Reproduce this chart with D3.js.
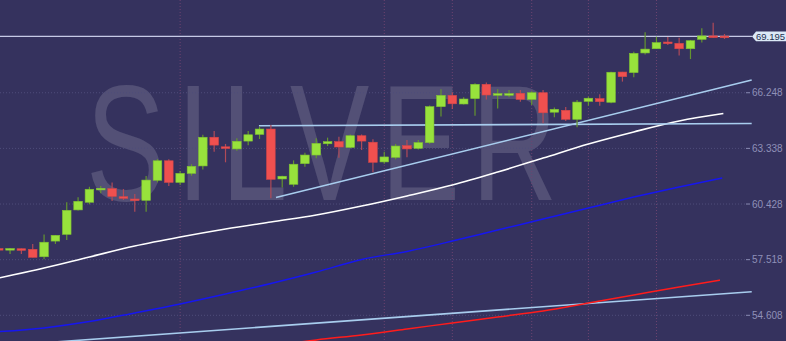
<!DOCTYPE html>
<html>
<head>
<meta charset="utf-8">
<script src="https://cdn.jsdelivr.net/npm/d3@7"></script>
<style>
  body { margin: 0; background: #35325e; overflow: hidden; }
  svg { display: block; font-family: "Liberation Sans", Arial, sans-serif; }
</style>
</head>
<body>
<div id="chart"></div>
<script>
// candles (oldest first)
var opens  = [58.10, 58.05, 58.09, 58.06, 57.67, 58.49, 58.84, 60.12, 60.52, 61.20,
              61.23, 60.81, 60.69, 60.62, 61.67, 62.69, 61.56, 62.03, 62.42, 63.92,
              63.42, 63.31, 63.72, 64.07, 64.35, 61.74, 61.46, 62.54, 62.99, 63.58,
              63.69, 63.39, 64.00, 63.66, 62.63, 62.87, 63.48, 63.34, 63.64, 65.52,
              66.11, 65.66, 65.94, 66.69, 66.16, 66.16, 66.22, 65.90, 66.25, 65.23,
              65.33, 64.86, 65.80, 65.94, 65.75, 67.33, 67.30, 68.33, 68.55, 68.90,
              68.83, 68.55, 69.04, 69.22, 69.21];
var highs  = [58.18, 58.13, 58.10, 58.34, 58.84, 58.81, 60.52, 60.78, 61.33, 61.37,
              61.56, 61.21, 60.95, 61.89, 62.78, 62.77, 62.16, 62.51, 64.05, 64.25,
              63.57, 63.87, 64.25, 64.47, 64.56, 61.91, 62.71, 63.11, 63.87, 63.90,
              63.95, 64.07, 64.07, 63.81, 63.16, 63.57, 63.78, 63.78, 65.58, 66.43,
              66.27, 66.01, 66.74, 66.79, 66.43, 66.39, 66.39, 66.32, 66.39, 65.47,
              65.50, 65.87, 66.04, 66.17, 67.35, 67.34, 68.39, 69.41, 69.18, 69.16,
              69.13, 69.01, 69.62, 69.91, 69.32];
var lows   = [58.02, 57.81, 57.81, 57.63, 57.54, 58.34, 58.55, 60.09, 60.41, 60.99,
              60.59, 60.64, 60.03, 60.03, 61.56, 61.37, 61.42, 61.91, 62.24, 63.16,
              62.61, 63.22, 63.50, 63.83, 60.73, 61.29, 61.33, 62.38, 62.82, 63.46,
              62.85, 63.34, 63.25, 62.09, 62.54, 62.77, 62.87, 63.28, 63.57, 65.00,
              65.40, 65.63, 65.05, 65.90, 65.43, 66.01, 65.78, 65.61, 64.65, 64.96,
              64.77, 64.44, 65.57, 65.57, 65.70, 66.83, 67.06, 68.25, 68.54, 68.74,
              68.19, 68.01, 68.87, 69.13, 69.06];
var closes = [58.08, 58.10, 58.05, 57.64, 58.43, 58.79, 60.10, 60.57, 61.20, 61.25,
              60.83, 60.77, 60.65, 61.68, 62.69, 61.56, 62.03, 62.40, 63.92, 63.51,
              63.37, 63.71, 64.05, 64.35, 61.72, 61.88, 62.51, 62.99, 63.60, 63.69,
              63.41, 64.00, 63.72, 62.61, 62.89, 63.46, 63.31, 63.64, 65.52, 66.11,
              65.67, 65.92, 66.69, 66.13, 66.20, 66.20, 65.90, 66.25, 65.20, 65.38,
              64.86, 65.76, 65.96, 65.78, 67.32, 67.09, 68.31, 68.53, 68.87, 68.87,
              68.55, 68.97, 69.22, 69.18, 69.195];

var yTicks = [54.608, 57.518, 60.428, 63.338, 66.248];
var lastPrice = 69.195;
var sessionBreaks = [16, 34, 40, 47, 52, 58];   // candle index of dotted verticals

// overlay lines: x as candle index, y as price
var whiteIdx = [0, 4, 8, 12, 16, 20, 24, 28, 32, 36, 40, 44, 48, 52, 56, 60, 63.9];
var whiteMa  = [56.56, 57.08, 57.66, 58.23, 58.70, 59.12, 59.49, 59.85, 60.32, 60.85,
                61.42, 62.10, 62.83, 63.57, 64.20, 64.77, 65.16];
var blueIdx  = [0, 4, 8, 12, 16, 20, 24, 28, 32, 36, 40, 44, 48, 52, 56, 60, 63.8];
var blueMa   = [53.75, 53.95, 54.28, 54.73, 55.20, 55.72, 56.27, 56.87, 57.53, 57.95,
                58.49, 59.07, 59.64, 60.22, 60.79, 61.32, 61.79];
var redIdx   = [24, 28, 32, 36, 40, 44, 48, 52, 56, 60, 63.6];
var redMa    = [53.00, 53.32, 53.58, 53.89, 54.21, 54.52, 54.83, 55.25, 55.67, 56.09, 56.45];
var longTrendIdx = [0, 66.4];
var longTrend    = [53.00, 55.84];
var channelIdx   = [24.45, 66.4];
var channel      = [60.77, 66.91];
var levelIdx     = [22.95, 66.4];
var level        = [64.52, 64.64];

var width = 786, height = 341;

var svg = d3.select('#chart').append('svg')
    .attr('width', width)
    .attr('height', height);

svg.append('rect')
    .attr('width', width)
    .attr('height', height)
    .attr('fill', '#35325e');

var x = d3.scaleLinear().domain([0, 64]).range([-1.3, 724.5]);
var y = d3.scaleLinear().domain([54.608, 69.195]).range([315.3, 36.4]);

// watermark
svg.append('text')
    .attr('transform', 'translate(86,200) scale(0.72,1)')
    .attr('font-size', 165)
    .attr('letter-spacing', 16)
    .attr('fill', '#ffffff')
    .attr('fill-opacity', 0.15)
    .text('SILVER');

// grid
svg.append('g').selectAll('line')
    .data(yTicks)
    .enter().append('line')
        .attr('x1', 0).attr('x2', 745)
        .attr('y1', function(d) { return y(d); })
        .attr('y2', function(d) { return y(d); })
        .attr('stroke', '#4f4d7a')
        .attr('stroke-dasharray', '1,2');

svg.append('g').selectAll('line')
    .data(sessionBreaks)
    .enter().append('line')
        .attr('x1', function(d) { return x(d); })
        .attr('x2', function(d) { return x(d); })
        .attr('y1', 0).attr('y2', height)
        .attr('stroke', '#6e4470')
        .attr('stroke-dasharray', '1,2');

// right axis
var axis = svg.append('g').attr('transform', 'translate(746,0)');
var tick = axis.selectAll('g')
    .data(yTicks)
    .enter().append('g')
        .attr('transform', function(d) { return 'translate(0,' + y(d) + ')'; });
tick.append('line')
    .attr('x1', 0).attr('x2', 4)
    .attr('stroke', '#8a8bb3');
tick.append('text')
    .attr('x', 6)
    .attr('dy', '0.35em')
    .attr('font-size', 10)
    .attr('fill', '#8f90b8')
    .text(function(d) { return d.toFixed(3); });

// overlay lines
var line = d3.line()
    .x(function(d) { return x(d[0]); })
    .y(function(d) { return y(d[1]); })
    .curve(d3.curveMonotoneX);

function drawLine(idx, vals, color, w) {
    svg.append('path')
        .datum(d3.zip(idx, vals))
        .attr('fill', 'none')
        .attr('stroke', color)
        .attr('stroke-width', w)
        .attr('d', line);
}

drawLine(longTrendIdx, longTrend, '#a8cdee', 1.6);
drawLine(redIdx, redMa, '#ff1c1c', 1.5);
drawLine(blueIdx, blueMa, '#1616f0', 1.5);
drawLine(whiteIdx, whiteMa, '#ffffff', 1.6);
drawLine(channelIdx, channel, '#a8cdee', 1.6);
drawLine(levelIdx, level, '#a8cdee', 1.6);

// last price line + tag
svg.append('line')
    .attr('x1', 0).attr('x2', 752)
    .attr('y1', y(lastPrice)).attr('y2', y(lastPrice))
    .attr('stroke', '#c6cae6')
    .attr('stroke-width', 1.3);

var ly = y(lastPrice);
svg.append('path')
    .attr('d', 'M752,' + ly + 'L756,' + (ly - 4.8) + 'H786V' + (ly + 4.8) + 'H756Z')
    .attr('fill', '#dbe9f7');
svg.append('text')
    .attr('x', 756)
    .attr('y', ly)
    .attr('dy', '0.36em')
    .attr('font-size', 9.5)
    .attr('fill', '#23304f')
    .text(lastPrice.toFixed(3));

// candles
var candles = d3.range(opens.length).map(function(i) {
    return { i: i, o: opens[i], h: highs[i], l: lows[i], c: closes[i] };
});
var bw = 8.6;

var cg = svg.append('g').selectAll('g')
    .data(candles)
    .enter().append('g');

cg.append('line')
    .attr('x1', function(d) { return x(d.i); })
    .attr('x2', function(d) { return x(d.i); })
    .attr('y1', function(d) { return y(d.h); })
    .attr('y2', function(d) { return y(d.l); })
    .attr('stroke', function(d) { return d.c >= d.o ? '#64952f' : '#b04a58'; })
    .attr('stroke-width', 1.2);

cg.append('rect')
    .attr('x', function(d) { return x(d.i) - bw / 2; })
    .attr('width', bw)
    .attr('y', function(d) { return y(Math.max(d.o, d.c)); })
    .attr('height', function(d) { return Math.max(1.6, Math.abs(y(d.o) - y(d.c))); })
    .attr('fill', function(d) { return d.c >= d.o ? '#98e23c' : '#f0504f'; })
    .attr('stroke', function(d) { return d.c >= d.o ? '#7fc232' : '#d84648'; })
    .attr('stroke-width', 0.6);
</script>
</body>
</html>
